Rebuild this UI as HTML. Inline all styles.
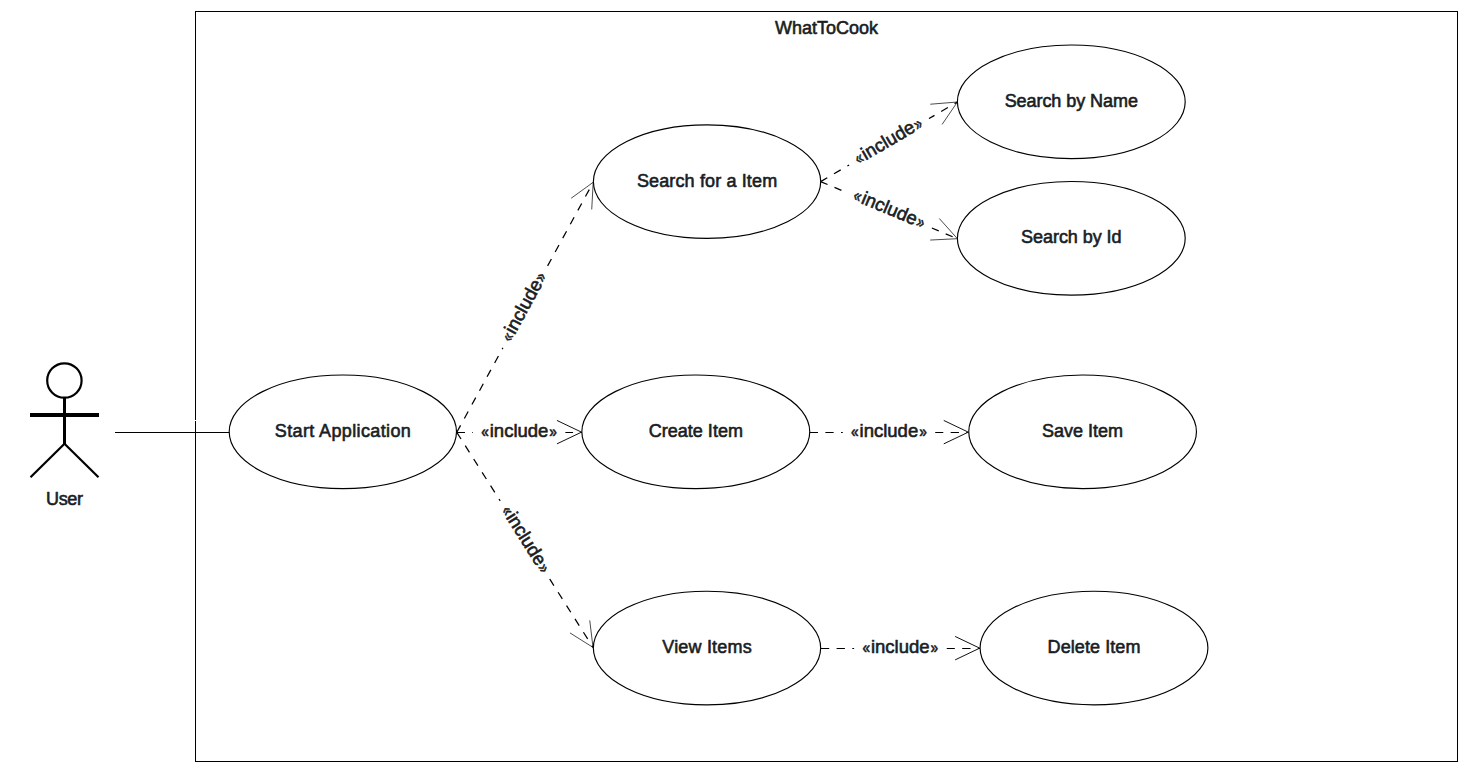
<!DOCTYPE html>
<html lang="en"><head><meta charset="utf-8"><title>WhatToCook - Use Case Diagram</title>
<style>
html,body{margin:0;padding:0;background:#fff;}
body{width:1468px;height:775px;overflow:hidden;}
svg{display:block;}
text{font-family:"Liberation Sans",Arial,sans-serif;font-size:18px;fill:#191d23;stroke:#191d23;stroke-width:.6px;stroke-linejoin:round;paint-order:stroke fill;text-anchor:middle;}
.ln{stroke:#000;stroke-width:1;fill:none;}
.ds{stroke:#000;stroke-width:1.25;fill:none;}
.dh{stroke-width:1.05;}
.ah{stroke:#111;stroke-width:1;fill:none;}
.uc{stroke:#000;stroke-width:1.15;fill:#fff;}
.ad{stroke-width:.75;}
.bg{fill:#fff;stroke:none;}
.gq{font-size:17px;}
.inc{font-size:18.5px;}
</style></head><body>
<svg width="1468" height="775" viewBox="0 0 1468 775">
<rect x="0" y="0" width="1468" height="775" fill="#fff"/>
<rect x="195.5" y="11.5" width="1262" height="750" fill="#fff" stroke="#000" stroke-width="1"/>
<text x="826.50" y="34.00" textLength="103" lengthAdjust="spacing">WhatToCook</text>
<g stroke="#000" fill="none" stroke-linecap="butt">
<circle cx="64.4" cy="380.5" r="17.2" stroke-width="2.2" fill="#fff"/>
<line x1="64.5" y1="397.5" x2="64.5" y2="444.5" stroke-width="3"/>
<line x1="30" y1="415" x2="99" y2="415" stroke-width="4"/>
<line x1="64.5" y1="443.8" x2="30.5" y2="477.3" stroke-width="2.2"/>
<line x1="64.5" y1="443.8" x2="98.5" y2="477.3" stroke-width="2.2"/>
</g>
<text x="64.50" y="505.00" textLength="37" lengthAdjust="spacing">User</text>
<line class="ln" x1="115" y1="432.5" x2="229.5" y2="432.5"/>
<rect x="194" y="420" width="3" height="1" fill="#fff"/>
<line class="ds" stroke-dasharray="7.90 7.90" x1="456.80" y1="432.30" x2="593.20" y2="182.30"/>
<g transform="translate(525.00 307.30) rotate(-61.38)">
<rect class="bg" x="-46.2" y="-11" width="92.4" height="22"/>
<text y="4.4"><tspan x="-34.1" class="gq" textLength="7.6" lengthAdjust="spacingAndGlyphs">«</tspan><tspan x="-0.1" class="inc" textLength="58.6" lengthAdjust="spacing">include</tspan><tspan x="34.0" class="gq" textLength="7.6" lengthAdjust="spacingAndGlyphs">»</tspan></text>
</g>
<line class="ds dh" stroke-dasharray="8.18 7.26" x1="456.80" y1="432.50" x2="581.80" y2="432.50"/>
<g transform="translate(519.15 432.32) rotate(0.00)">
<rect class="bg" x="-46.2" y="-11" width="92.4" height="22"/>
<text y="4.4"><tspan x="-34.1" class="gq" textLength="7.6" lengthAdjust="spacingAndGlyphs">«</tspan><tspan x="-0.1" class="inc" textLength="58.6" lengthAdjust="spacing">include</tspan><tspan x="34.0" class="gq" textLength="7.6" lengthAdjust="spacingAndGlyphs">»</tspan></text>
</g>
<line class="ds" stroke-dasharray="7.89 7.89" x1="456.80" y1="432.30" x2="593.00" y2="647.40"/>
<g transform="translate(524.90 539.85) rotate(57.66)">
<rect class="bg" x="-46.2" y="-11" width="92.4" height="22"/>
<text y="4.4"><tspan x="-34.1" class="gq" textLength="7.6" lengthAdjust="spacingAndGlyphs">«</tspan><tspan x="-0.1" class="inc" textLength="58.6" lengthAdjust="spacing">include</tspan><tspan x="34.0" class="gq" textLength="7.6" lengthAdjust="spacingAndGlyphs">»</tspan></text>
</g>
<line class="ds" stroke-dasharray="7.75 7.75" x1="820.60" y1="181.60" x2="957.40" y2="102.00"/>
<g transform="translate(889.00 141.80) rotate(-30.19)">
<rect class="bg" x="-46.2" y="-11" width="92.4" height="22"/>
<text y="4.4"><tspan x="-34.1" class="gq" textLength="7.6" lengthAdjust="spacingAndGlyphs">«</tspan><tspan x="-0.1" class="inc" textLength="58.6" lengthAdjust="spacing">include</tspan><tspan x="34.0" class="gq" textLength="7.6" lengthAdjust="spacingAndGlyphs">»</tspan></text>
</g>
<line class="ds" stroke-dasharray="7.53 7.53" x1="820.60" y1="181.60" x2="957.40" y2="238.70"/>
<g transform="translate(889.00 210.15) rotate(22.66)">
<rect class="bg" x="-46.2" y="-11" width="92.4" height="22"/>
<text y="4.4"><tspan x="-34.1" class="gq" textLength="7.6" lengthAdjust="spacingAndGlyphs">«</tspan><tspan x="-0.1" class="inc" textLength="58.6" lengthAdjust="spacing">include</tspan><tspan x="34.0" class="gq" textLength="7.6" lengthAdjust="spacingAndGlyphs">»</tspan></text>
</g>
<line class="ds dh" stroke-dasharray="8.30 7.36" x1="809.70" y1="432.50" x2="968.60" y2="432.50"/>
<g transform="translate(889.00 432.32) rotate(0.00)">
<rect class="bg" x="-46.2" y="-11" width="92.4" height="22"/>
<text y="4.4"><tspan x="-34.1" class="gq" textLength="7.6" lengthAdjust="spacingAndGlyphs">«</tspan><tspan x="-0.1" class="inc" textLength="58.6" lengthAdjust="spacing">include</tspan><tspan x="34.0" class="gq" textLength="7.6" lengthAdjust="spacingAndGlyphs">»</tspan></text>
</g>
<line class="ds dh" stroke-dasharray="8.32 7.38" x1="820.90" y1="648.50" x2="980.00" y2="648.50"/>
<g transform="translate(900.30 648.33) rotate(0.00)">
<rect class="bg" x="-46.2" y="-11" width="92.4" height="22"/>
<text y="4.4"><tspan x="-34.1" class="gq" textLength="7.6" lengthAdjust="spacingAndGlyphs">«</tspan><tspan x="-0.1" class="inc" textLength="58.6" lengthAdjust="spacing">include</tspan><tspan x="34.0" class="gq" textLength="7.6" lengthAdjust="spacingAndGlyphs">»</tspan></text>
</g>
<polyline class="ah ad" points="571.16,198.24 593.20,182.30 591.72,209.46"/>
<polyline class="ah" points="556.95,420.44 581.50,432.15 556.95,443.86"/>
<polyline class="ah ad" points="589.76,620.39 593.00,647.40 569.97,632.92"/>
<polyline class="ah ad" points="930.29,104.23 957.40,102.00 942.07,124.47"/>
<polyline class="ah ad" points="939.25,218.44 957.40,238.70 930.23,240.05"/>
<polyline class="ah" points="943.75,420.44 968.30,432.15 943.75,443.86"/>
<polyline class="ah" points="955.15,636.44 979.70,648.15 955.15,659.86"/>
<ellipse class="uc" cx="342.85" cy="431.80" rx="113.65" ry="56.80"/>
<text x="342.85" y="436.80" textLength="136" lengthAdjust="spacing">Start Application</text>
<ellipse class="uc" cx="707.05" cy="181.60" rx="113.65" ry="56.80"/>
<text x="707.05" y="186.60" textLength="140.2" lengthAdjust="spacing">Search for a Item</text>
<ellipse class="uc" cx="695.80" cy="431.80" rx="113.95" ry="56.80"/>
<text x="695.80" y="436.80" textLength="94.3" lengthAdjust="spacing">Create Item</text>
<ellipse class="uc" cx="707.00" cy="648.00" rx="113.65" ry="56.80"/>
<text x="707.00" y="653.00" textLength="89.4" lengthAdjust="spacing">View Items</text>
<ellipse class="uc" cx="1071.30" cy="101.85" rx="113.90" ry="56.80"/>
<text x="1071.30" y="106.85" textLength="133.3" lengthAdjust="spacing">Search by Name</text>
<ellipse class="uc" cx="1071.30" cy="238.25" rx="113.90" ry="56.80"/>
<text x="1071.30" y="243.25" textLength="100.4" lengthAdjust="spacing">Search by Id</text>
<ellipse class="uc" cx="1082.60" cy="431.80" rx="113.85" ry="56.80"/>
<text x="1082.60" y="436.80" textLength="81" lengthAdjust="spacing">Save Item</text>
<ellipse class="uc" cx="1094.00" cy="648.00" rx="113.90" ry="56.80"/>
<text x="1094.00" y="653.00" textLength="92.8" lengthAdjust="spacing">Delete Item</text>
</svg></body></html>
